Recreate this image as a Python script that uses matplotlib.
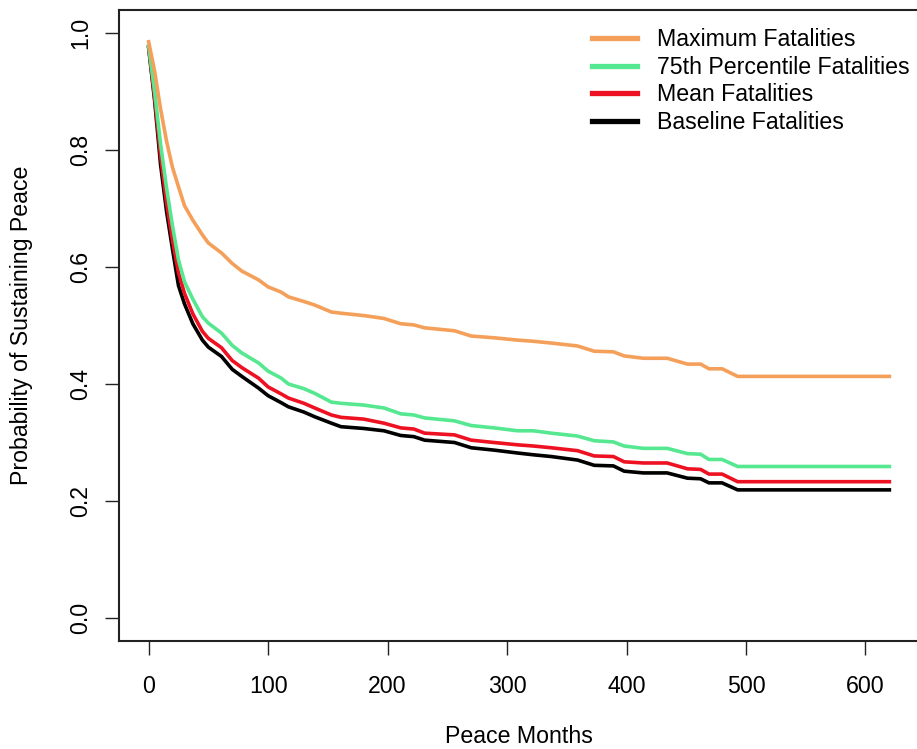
import matplotlib
matplotlib.use("Agg")
import matplotlib.pyplot as plt
from matplotlib.lines import Line2D

months = [0, 5, 10, 15, 20, 25, 30, 37, 45, 50, 61, 70, 78, 92, 100, 111, 117, 130,
          139, 153, 161, 180, 197, 211, 222, 231, 256, 270, 289, 309, 322, 337, 359,
          373, 389, 398, 414, 434, 451, 462, 469, 480, 493, 620]

max_fat = [0.985, 0.935, 0.87, 0.815, 0.77, 0.737, 0.705, 0.68, 0.655, 0.641, 0.624, 0.606,
           0.593, 0.578, 0.566, 0.557, 0.549, 0.541, 0.535, 0.523, 0.521, 0.517, 0.512,
           0.503, 0.501, 0.496, 0.491, 0.482, 0.479, 0.475, 0.473, 0.470, 0.465, 0.456,
           0.455, 0.448, 0.444, 0.444, 0.434, 0.434, 0.426, 0.426, 0.413, 0.413]

p75_fat = [0.978, 0.90, 0.81, 0.735, 0.67, 0.612, 0.575, 0.545, 0.515, 0.504, 0.487, 0.466,
           0.453, 0.436, 0.422, 0.41, 0.400, 0.392, 0.384, 0.369, 0.367, 0.364, 0.359,
           0.349, 0.347, 0.342, 0.337, 0.329, 0.325, 0.320, 0.320, 0.316, 0.311, 0.303,
           0.301, 0.294, 0.290, 0.290, 0.281, 0.280, 0.271, 0.271, 0.259, 0.259]

mean_fat = [0.976, 0.89, 0.79, 0.71, 0.645, 0.59, 0.555, 0.52, 0.49, 0.478, 0.462, 0.44,
            0.428, 0.41, 0.395, 0.383, 0.376, 0.367, 0.359, 0.347, 0.343, 0.340, 0.333,
            0.325, 0.323, 0.316, 0.313, 0.304, 0.300, 0.296, 0.294, 0.291, 0.286, 0.277,
            0.276, 0.267, 0.265, 0.265, 0.255, 0.254, 0.246, 0.246, 0.233, 0.233]

base_fat = [0.975, 0.885, 0.775, 0.695, 0.63, 0.568, 0.537, 0.503, 0.475, 0.463, 0.447, 0.425,
            0.413, 0.393, 0.38, 0.368, 0.361, 0.352, 0.344, 0.333, 0.327, 0.324, 0.320,
            0.312, 0.310, 0.304, 0.300, 0.291, 0.287, 0.282, 0.279, 0.276, 0.270, 0.261,
            0.260, 0.251, 0.248, 0.248, 0.239, 0.238, 0.231, 0.231, 0.219, 0.219]

labels = ["Maximum Fatalities", "75th Percentile Fatalities", "Mean Fatalities", "Baseline Fatalities"]
colors = ["#F5A05A", "#55E890", "#EE1122", "#000000"]
series = [max_fat, p75_fat, mean_fat, base_fat]

x_ticks = [0, 100, 200, 300, 400, 500, 600]
y_ticks = [0.0, 0.2, 0.4, 0.6, 0.8, 1.0]

plt.rcParams['font.family'] = ['Liberation Sans', 'DejaVu Sans']

W, H = 917, 749
FS = 16.7
fig = plt.figure(figsize=(W / 100, H / 100), dpi=100)
ax = fig.add_axes([119 / W, 1 - 641.4 / H, 800 / W, 631.8 / H])

for vals, c in zip(series[::-1], colors[::-1]):
    ax.plot(months, vals, color=c, lw=2.6, solid_joinstyle='round')

ax.set_xlim(-24.8, 644.8)
ax.set_ylim(-0.04, 1.04)
ax.set_xticks(x_ticks)
ax.set_xticklabels([str(v) for v in x_ticks])
ax.set_yticks(y_ticks)
ax.set_yticklabels([f"{v:.1f}" for v in y_ticks], rotation=90, va='center')
ax.tick_params(axis='both', length=10, width=1, labelsize=FS, direction='out',
               color='#222222')
ax.tick_params(axis='x', pad=14.5)
ax.tick_params(axis='y', pad=9)
for s in ax.spines.values():
    s.set_linewidth(1.5)
    s.set_color('#222222')

ax.set_xlabel("Peace Months", fontsize=FS, labelpad=19)
ax.set_ylabel("Probability of Sustaining Peace", fontsize=FS, labelpad=26)

handles = [Line2D([0], [0], color=c, lw=3.8) for c in colors]
fig.legend(handles, labels, loc='upper left', bbox_to_anchor=(592 / W, 1 - 28 / H),
           frameon=False, fontsize=FS, handlelength=1.95, handletextpad=0.85,
           labelspacing=0.2, borderpad=0, borderaxespad=0)

fig.savefig("out.png", dpi=100)
